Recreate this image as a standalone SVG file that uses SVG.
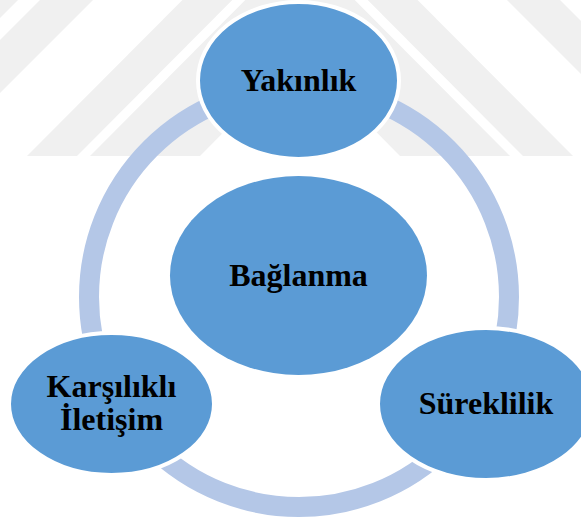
<svg xmlns="http://www.w3.org/2000/svg" width="581" height="520" viewBox="0 0 581 520">
  <style>
    .wm { fill: #f0f0f0; }
    .ring { fill: none; stroke: #b4c7e7; stroke-width: 20; }
    .node { fill: #5b9bd5; stroke: #ffffff; stroke-width: 4; }
    .center { fill: #5b9bd5; }
    .label { font-family: "Liberation Serif", "Times New Roman", serif; font-weight: bold; font-size: 32px; fill: #000000; text-anchor: middle; }
  </style>
  <rect width="581" height="520" fill="#ffffff"/>
  <g id="watermark">
    <polygon class="wm" points="0,0 18,0 0,18"/>
    <polygon class="wm" points="0,40 40,0 93,0 0,93"/>
    <polygon class="wm" points="507,0 560,0 581,21 581,74"/>
    <polygon class="wm" points="27,156 300,-118 573,156 523,156 300,-68 77,156"/>
    <polygon class="wm" points="90,156 300,-55 510,156 400,156 300,55 200,156"/>
  </g>
  <g id="connectors">
    <circle class="ring" cx="299" cy="297" r="210"/>
  </g>
  <g id="node-baglanma">
    <ellipse class="center" cx="298.5" cy="275.5" rx="128.5" ry="99.5"/>
    <text class="label" x="298.5" y="286">Bağlanma</text>
  </g>
  <g id="node-yakinlik">
    <ellipse class="node" cx="298.5" cy="80.5" rx="100.5" ry="78.5"/>
    <text class="label" x="298.5" y="91">Yakınlık</text>
  </g>
  <g id="node-karsilikli">
    <ellipse class="node" cx="111.5" cy="404" rx="102.5" ry="71"/>
    <text class="label" x="111.5" y="397">Karşılıklı</text>
    <text class="label" x="111.5" y="430">İletişim</text>
  </g>
  <g id="node-sureklilik">
    <ellipse class="node" cx="486" cy="404" rx="108" ry="76"/>
    <text class="label" x="486" y="414">Süreklilik</text>
  </g>
</svg>
